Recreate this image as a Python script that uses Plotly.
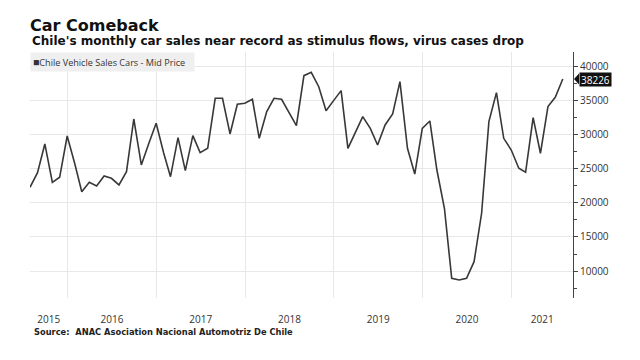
import pandas as pd
import plotly.graph_objects as go

# Monthly Chile vehicle sales (cars), month-end dates Jul 2015 - Jul 2021
dates = pd.date_range("2015-07-31", "2021-07-31", freq="ME")
sales = [
    22310, 24460, 28680, 23040, 23780, 29850,
    25800, 21660, 23040, 22500, 23970, 23630, 22650, 24600, 32350, 25590, 28680, 31720,
    27350, 23870, 29600, 24750, 29900, 27400, 28040, 35390, 35390, 30150, 34510, 34660,
    35250, 29510, 33430, 35390, 35250, 33290, 31370, 38720, 39210, 37100, 33570, 35050,
    36520, 28040, 30340, 32700, 30980, 28530, 31470, 33090, 37840, 28040, 24260, 30980,
    32060, 24850, 19220, 8930, 8680, 8930, 11370, 18490, 31960, 36230, 29510, 27790,
    25100, 24510, 32550, 27310, 34170, 35540, 38226,
]
year_starts = ["2016-01-01", "2017-01-01", "2018-01-01", "2019-01-01", "2020-01-01", "2021-01-01"]
year_labels = ["2015", "2016", "2017", "2018", "2019", "2020", "2021"]

title = "Car Comeback"
subtitle = "Chile's monthly car sales near record as stimulus flows, virus cases drop"
series_name = "Chile Vehicle Sales Cars - Mid Price"
source = "Source:  ANAC Asociation Nacional Automotriz De Chile"

x_start = pd.Timestamp("2015-07-31")
x_end = pd.Timestamp("2021-09-11")
y_range = [6030, 42200]

# label positions: middle of the visible part of each year
bounds = [x_start] + [pd.Timestamp(d) for d in year_starts] + [x_end]
label_pos = [bounds[i] + (bounds[i + 1] - bounds[i]) / 2 for i in range(len(bounds) - 1)]

fig = go.Figure()
fig.add_trace(go.Scatter(
    x=dates, y=sales, mode="lines", name=series_name,
    line=dict(color="#383838", width=1.6), showlegend=False,
))
# invisible trace for label axis
fig.add_trace(go.Scatter(x=[x_start, x_end], y=[None, None], xaxis="x2", showlegend=False, hoverinfo="skip"))

grid = "#e8e8e8"
fig.update_layout(
    width=640, height=360,
    margin=dict(l=30, r=67, t=52, b=62),
    paper_bgcolor="white", plot_bgcolor="white",
    font=dict(family="Open Sans", color="#333333", size=10),
    title=dict(text="<b>" + title + "</b>", x=30 / 640, xanchor="left", xref="container",
               y=1 - 25 / 360, yanchor="middle", yref="container",
               font=dict(family="DejaVu Sans", size=16, color="#111111")),
    xaxis=dict(range=[x_start, x_end], type="date", tickvals=year_starts, showticklabels=False,
               showgrid=True, gridcolor=grid, gridwidth=1, zeroline=False, showline=False, ticks=""),
    xaxis2=dict(range=[x_start, x_end], type="date", overlaying="x", side="bottom", anchor="y",
                tickvals=label_pos, ticktext=year_labels, showgrid=False, ticks="",
                ticklabelstandoff=14, tickfont=dict(family="Open Sans", size=10, color="#333333"),
                showline=False, zeroline=False),
    yaxis=dict(range=y_range, side="right", dtick=5000, tick0=0, tickformat="d", showgrid=True,
               gridcolor=grid, showline=True, linecolor="#444444", linewidth=1, ticks="outside",
               ticklen=4, tickcolor="#444444", zeroline=False,
               tickfont=dict(family="Open Sans", size=10, color="#333333"),
               minor=dict(dtick=2500, tick0=0, ticks="outside", ticklen=3, tickcolor="#444444", showgrid=False)),
)

fig.add_annotation(
    text="<b>" + subtitle + "</b>", xref="paper", yref="paper", x=0, y=(298 - 40.5) / 246,
    xanchor="left", yanchor="middle", showarrow=False,
    font=dict(family="DejaVu Sans", size=12, color="#111111"),
)
fig.add_annotation(
    text="<span style='font-size:10.5px'>■</span>" + series_name, xref="paper", yref="paper",
    x=0, y=1, xanchor="left", yanchor="top",
    showarrow=False, align="left", bgcolor="#efefef", width=159, height=14, borderpad=2,
    font=dict(family="Open Sans", size=9.1, color="#333333"),
)
fig.add_annotation(
    text="<b>" + source + "</b>", xref="paper", yref="paper", x=2 / 543, y=-(331.7 - 298) / 246,
    xanchor="left", yanchor="middle", showarrow=False,
    font=dict(family="DejaVu Sans", size=8.3, color="#222222"),
)
# last value tag
last = sales[-1]
fig.add_shape(type="path", xref="paper", xsizemode="pixel", xanchor=1, yref="y", ysizemode="pixel",
              yanchor=last, path="M1,0 L6,5.5 L6,-5.5 Z", fillcolor="#111111", line=dict(width=0))
fig.add_annotation(
    text=f"{last}", xref="paper", yref="y", x=1, y=last, xanchor="left", yanchor="middle",
    xshift=6, showarrow=False, bgcolor="#111111", borderpad=1, height=11,
    font=dict(family="Open Sans", size=10, color="white"),
)

fig.write_html("out.html", config={"displayModeBar": False},
               post_script="document.body.style.margin='0';")
